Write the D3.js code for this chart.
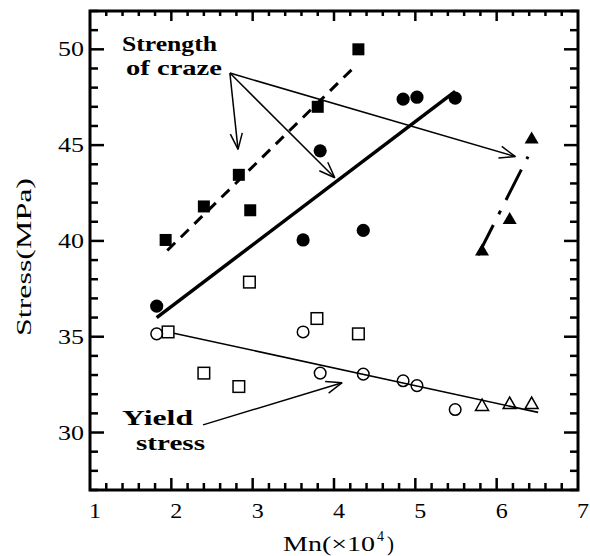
<!DOCTYPE html>
<html>
<head>
<meta charset="utf-8">
<script src="https://cdn.jsdelivr.net/npm/d3@7"></script>
<style>
  html, body { margin: 0; padding: 0; background: #fff; }
  svg { display: block; }
  text { font-family: "Liberation Serif", "Times New Roman", serif; fill: #000; }
</style>
</head>
<body>
<svg id="chart" width="590" height="556"></svg>
<script>
// ---------------- data ----------------
const xTicks = [1, 2, 3, 4, 5, 6, 7];
const yTicks = [30, 35, 40, 45, 50];

// strength of craze, filled squares
const crazeSquares = [
  {x: 1.93, y: 40.05}, {x: 2.40, y: 41.8}, {x: 2.83, y: 43.45},
  {x: 2.97, y: 41.6}, {x: 3.80, y: 47.0}, {x: 4.30, y: 50.0}
];
// strength of craze, filled circles
const crazeCircles = [
  {x: 1.82, y: 36.6}, {x: 3.62, y: 40.05}, {x: 3.83, y: 44.7},
  {x: 4.36, y: 40.55}, {x: 4.85, y: 47.4}, {x: 5.02, y: 47.5}, {x: 5.49, y: 47.45}
];
// strength of craze, filled triangles
const crazeTriangles = [
  {x: 5.82, y: 39.55}, {x: 6.16, y: 41.2}, {x: 6.43, y: 45.4}
];
// yield stress, open circles
const yieldCircles = [
  {x: 1.82, y: 35.15}, {x: 3.62, y: 35.25}, {x: 3.83, y: 33.1},
  {x: 4.36, y: 33.05}, {x: 4.85, y: 32.7}, {x: 5.02, y: 32.45}, {x: 5.49, y: 31.2}
];
// yield stress, open squares
const yieldSquares = [
  {x: 1.96, y: 35.25}, {x: 2.40, y: 33.1}, {x: 2.83, y: 32.4},
  {x: 2.96, y: 37.85}, {x: 3.79, y: 35.95}, {x: 4.30, y: 35.15}
];
// yield stress, open triangles
const yieldTriangles = [
  {x: 5.82, y: 31.45}, {x: 6.16, y: 31.55}, {x: 6.43, y: 31.55}
];

// fitted lines (end points)
const fitSquares   = [{x: 1.95, y: 39.5}, {x: 4.28, y: 49.2}];
const fitCircles   = [{x: 1.82, y: 36.0}, {x: 5.49, y: 47.8}];
const fitTriangles = [{x: 5.77, y: 39.25}, {x: 6.385, y: 44.4}];
const fitYield     = [{x: 1.96, y: 35.25}, {x: 6.51, y: 31.05}];

// annotation arrows
const crazeArrowFrom = {x: 2.72, y: 48.76};
const crazeArrowTo = [{x: 2.82, y: 44.78}, {x: 4.01, y: 43.3}, {x: 6.23, y: 44.4}];
const yieldArrow = [{x: 2.39, y: 30.4}, {x: 4.10, y: 32.6}];

// ---------------- chart ----------------
const svg = d3.select("#chart");
const L = 90, R = 578, T = 11, B = 490;
const x = d3.scaleLinear().domain([1, 7]).range([L, R]);
const y = d3.scaleLinear().domain([27, 52]).range([B, T]);

const g = svg.append("g");

// ticks
const xMinor = d3.range(1, 7.001, 0.2).filter(v => Math.abs(v - Math.round(v)) > 0.01);
const yMinor = d3.range(27, 52.001, 1).filter(v => v % 5 !== 0);
const yMajor = [30, 35, 40, 45, 50];
const majLen = 12, minLen = 7;

function tickLines(vals, len, axis) {
  vals.forEach(v => {
    if (axis === "bottom") g.append("line").attr("x1", x(v)).attr("x2", x(v)).attr("y1", B).attr("y2", B - len);
    if (axis === "top") g.append("line").attr("x1", x(v)).attr("x2", x(v)).attr("y1", T).attr("y2", T + len - 2);
    if (axis === "left") g.append("line").attr("y1", y(v)).attr("y2", y(v)).attr("x1", L).attr("x2", L + len);
    if (axis === "right") g.append("line").attr("y1", y(v)).attr("y2", y(v)).attr("x1", R).attr("x2", R - len);
  });
}
const xMajorInner = [2, 3, 4, 5, 6];
["bottom", "top"].forEach(a => { tickLines(xMajorInner, majLen, a); tickLines(xMinor, minLen, a); });
["left", "right"].forEach(a => { tickLines(yMajor, majLen + 2, a); tickLines(yMinor, minLen + 1, a); });
g.selectAll("line").attr("stroke", "#000").attr("stroke-width", 2.5);

// frame
g.append("rect").attr("x", L).attr("y", T).attr("width", R - L).attr("height", B - T)
  .attr("fill", "none").attr("stroke", "#000").attr("stroke-width", 3);

// tick labels
xTicks.forEach(v => {
  g.append("text").attr("x", x(v) + 5).attr("y", 518).attr("text-anchor", "middle")
    .attr("font-size", 22).attr("textLength", 12).attr("lengthAdjust", "spacingAndGlyphs").text(v);
});
yTicks.forEach(v => {
  g.append("text").attr("x", 84).attr("y", y(v) + 7).attr("text-anchor", "end")
    .attr("font-size", 21).attr("textLength", 26).attr("lengthAdjust", "spacingAndGlyphs").text(v);
});

// axis titles
svg.append("text").attr("transform", "translate(31,257) rotate(-90)").attr("text-anchor", "middle")
  .attr("font-size", 22).attr("textLength", 158).attr("lengthAdjust", "spacingAndGlyphs").text("Stress(MPa)");
svg.append("text").attr("x", 283).attr("y", 551).attr("font-size", 21)
  .attr("textLength", 92).attr("lengthAdjust", "spacingAndGlyphs").text("Mn(\u00d710");
svg.append("text").attr("x", 377).attr("y", 541).attr("font-size", 14).text("4");
svg.append("text").attr("x", 387).attr("y", 551).attr("font-size", 21).text(")");

// fitted lines
const line = d3.line().x(d => x(d.x)).y(d => y(d.y));
g.append("path").attr("d", line(fitSquares)).attr("fill", "none").attr("stroke", "#000")
  .attr("stroke-width", 3).attr("stroke-dasharray", "11,8");
g.append("path").attr("d", line(fitCircles)).attr("fill", "none").attr("stroke", "#000")
  .attr("stroke-width", 3.5);
g.append("path").attr("d", line(fitTriangles)).attr("fill", "none").attr("stroke", "#000")
  .attr("stroke-width", 3).attr("stroke-dasharray", "34,12,4,12");
g.append("path").attr("d", line(fitYield)).attr("fill", "none").attr("stroke", "#000")
  .attr("stroke-width", 1.6);

// markers
const sq = 12, cr = 6.3, tw = 14, th = 12;
g.selectAll(".fsq").data(crazeSquares).join("rect")
  .attr("x", d => x(d.x) - sq / 2).attr("y", d => y(d.y) - sq / 2).attr("width", sq).attr("height", sq).attr("fill", "#000");
g.selectAll(".fci").data(crazeCircles).join("circle")
  .attr("cx", d => x(d.x)).attr("cy", d => y(d.y)).attr("r", cr + 0.3).attr("fill", "#000");
const tri = (cx, cy, w, h) => `M${cx - w / 2},${cy + h / 2}L${cx + w / 2},${cy + h / 2}L${cx},${cy - h / 2}Z`;
g.selectAll(".ftr").data(crazeTriangles).join("path")
  .attr("d", d => tri(x(d.x), y(d.y), tw, th)).attr("fill", "#000");

g.selectAll(".osq").data(yieldSquares).join("rect")
  .attr("x", d => x(d.x) - 5.8).attr("y", d => y(d.y) - 5.8).attr("width", 11.6).attr("height", 11.6)
  .attr("fill", "#fff").attr("stroke", "#000").attr("stroke-width", 1.5);
g.selectAll(".oci").data(yieldCircles).join("circle")
  .attr("cx", d => x(d.x)).attr("cy", d => y(d.y)).attr("r", 5.8)
  .attr("fill", "none").attr("stroke", "#000").attr("stroke-width", 1.5);
g.selectAll(".otr").data(yieldTriangles).join("path")
  .attr("d", d => tri(x(d.x), y(d.y), 13, 11.5)).attr("fill", "none")
  .attr("stroke", "#000").attr("stroke-width", 1.5).attr("stroke-linejoin", "miter");

// arrows with open heads
function arrow(p0, p1) {
  const x0 = x(p0.x), y0 = y(p0.y), x1 = x(p1.x), y1 = y(p1.y);
  g.append("line").attr("x1", x0).attr("y1", y0).attr("x2", x1).attr("y2", y1)
    .attr("stroke", "#000").attr("stroke-width", 1.5);
  const ang = Math.atan2(y1 - y0, x1 - x0), len = 17, spread = 0.36;
  [ang + Math.PI - spread, ang + Math.PI + spread].forEach(a => {
    g.append("line").attr("x1", x1).attr("y1", y1)
      .attr("x2", x1 + len * Math.cos(a)).attr("y2", y1 + len * Math.sin(a))
      .attr("stroke", "#000").attr("stroke-width", 1.5);
  });
}
crazeArrowTo.forEach(p => arrow(crazeArrowFrom, p));
arrow(yieldArrow[0], yieldArrow[1]);

// annotation texts
const ann = (txt, xl, yb, w) => g.append("text").attr("x", xl).attr("y", yb).attr("font-size", 22)
  .attr("font-weight", "bold").attr("textLength", w).attr("lengthAdjust", "spacingAndGlyphs").text(txt);
ann("Strength", 122, 51, 95);
ann("of craze", 126, 75, 96);
ann("Yield", 122, 425, 71);
ann("stress", 136, 450, 69);
</script>
</body>
</html>
